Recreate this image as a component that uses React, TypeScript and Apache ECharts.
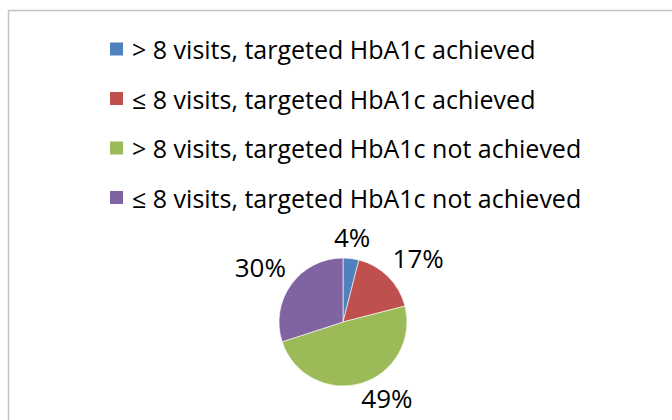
import React, { useEffect, useRef } from 'react';
import * as echarts from 'echarts';

const categories = [
  '> 8 visits, targeted HbA1c achieved',
  '≤ 8 visits, targeted HbA1c achieved',
  '> 8 visits, targeted HbA1c not achieved',
  '≤ 8 visits, targeted HbA1c not achieved',
];
const values = [4, 17, 49, 30];
const colors = ['#4F81BD', '#C0504D', '#9BBB59', '#8064A2'];

const FONT = '"Open Sans", Lato, sans-serif';
const CX = 343;
const CY = 322;
const R = 64;
const LABEL_SIZE = 26;
const ANCHOR = 9;

export default function App() {
  const ref = useRef<HTMLDivElement>(null);
  useEffect(() => {
    if (!ref.current) return;
    const chart = echarts.init(ref.current, null, { renderer: 'svg' });
    const total = values.reduce((a, b) => a + b, 0);
    const mids: number[] = [];
    let acc = 0;
    values.forEach((v) => {
      mids.push(((acc + v / 2) / total) * 2 * Math.PI);
      acc += v;
    });
    chart.setOption({
      animation: false,
      backgroundColor: '#ffffff',
      color: colors,
      graphic: [
        {
          type: 'rect',
          silent: true,
          z: -1,
          shape: { x: 8.5, y: 10.5, width: 700, height: 500 },
          style: { fill: 'none', stroke: '#c4c4c4', lineWidth: 1.5 },
        },
      ],
      legend: {
        orient: 'vertical',
        left: 108,
        top: 36,
        padding: 0,
        itemWidth: 15,
        itemHeight: 15,
        itemGap: 23.5,
        icon: 'rect',
        selectedMode: false,
        data: categories,
        textStyle: {
          fontSize: 25,
          fontFamily: FONT,
          color: '#000',
          lineHeight: 26,
          padding: [0, 0, 0, 3],
        },
      },
      series: [
        {
          type: 'pie',
          center: [CX, CY],
          radius: R,
          startAngle: 90,
          clockwise: true,
          percentPrecision: 0,
          itemStyle: { borderColor: '#ffffff', borderWidth: 0.6 },
          label: {
            show: true,
            position: 'outside',
            formatter: '{d}%',
            fontSize: LABEL_SIZE,
            fontFamily: FONT,
            color: '#000',
          },
          labelLine: { show: false },
          labelLayout: (p: any) => {
            const a = mids[p.dataIndex];
            const dx = Math.sin(a);
            const dy = -Math.cos(a);
            const d = R + ANCHOR;
            const ax = CX + dx * d;
            const ay = CY + dy * d;
            const sx = Math.abs(dx) < 0.2 ? 0 : Math.sign(dx);
            const sy = Math.abs(dy) < 0.2 ? 0 : Math.sign(dy);
            const hw = p.labelRect.width / 2;
            const hh = LABEL_SIZE * 0.36;
            return {
              x: ax + sx * (hw - 2),
              y: ay + sy * hh - LABEL_SIZE * 0.12,
              align: 'center',
              verticalAlign: 'middle',
            };
          },
          emphasis: { disabled: true },
          data: categories.map((name, i) => ({ name, value: values[i] })),
        },
      ],
    });
    return () => chart.dispose();
  }, []);
  return (
    <div
      ref={ref}
      style={{ position: 'fixed', left: 0, top: 0, width: 672, height: 420 }}
    />
  );
}
